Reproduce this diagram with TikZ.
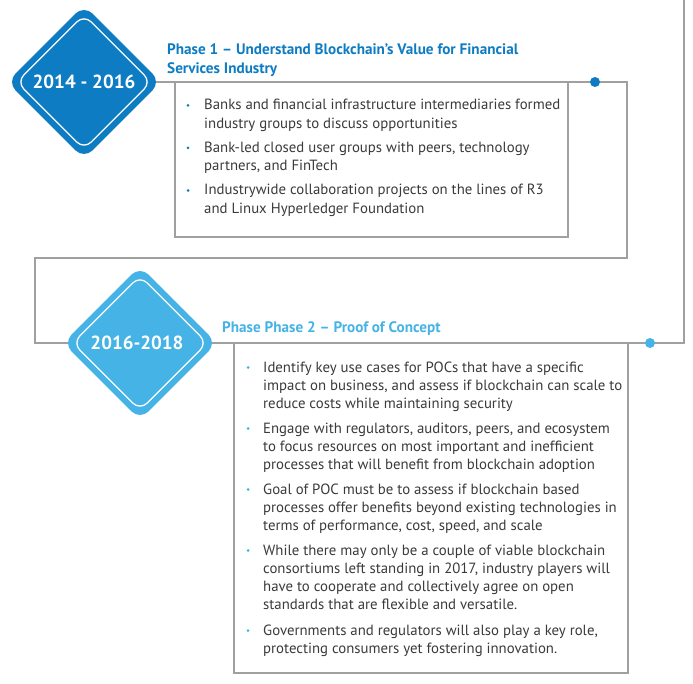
\documentclass[tikz,border=0pt]{standalone}
\usepackage{fontspec}
\setmainfont{PT Sans}
\usetikzlibrary{shapes.geometric,backgrounds}
\definecolor{dblue}{HTML}{0E7CC3}
\definecolor{lblue}{HTML}{45B3E6}
\definecolor{linegray}{HTML}{A0A0A0}
\definecolor{txtgray}{HTML}{3A3A3A}
\tikzset{
  conn/.style={draw=linegray, line width=1.5pt},
  boxframe/.style={draw=linegray, line width=1.5pt, rectangle, inner sep=0pt},
  dia/.style={diamond, aspect=1, inner sep=0pt, minimum size=154pt, rounded corners=12pt},
  diain/.style={diamond, aspect=1, inner sep=0pt, minimum size=135pt, rounded corners=10pt, draw=white, line width=1.3pt},
  yeartext/.style={text=white, font=\fontsize{19}{22}\selectfont\bfseries, inner sep=0pt},
  phasetitle/.style={anchor=base west, inner sep=0pt, align=left, font=\fontsize{15.2}{19}\selectfont\bfseries},
  itemtext/.style={anchor=base west, inner sep=0pt, align=left, text=txtgray, font=\fontsize{14.8}{18.3}\selectfont},
  bul/.style={circle, inner sep=0pt, minimum size=3pt},
  dot/.style={circle, inner sep=0pt, minimum size=10pt},
}
\begin{document}
\begin{tikzpicture}[x=1pt,y=-1pt]
\useasboundingbox (0,0) rectangle (693,684);
% diamonds
\node[dia, fill=dblue] (d1) at (84,82) {};
\node[diain] (d1in) at (84,82) {};
\node[yeartext] (y1) at (84,82) {2014 - 2016};
\node[dia, fill=lblue] (d2) at (140,343) {};
\node[diain] (d2in) at (140,343) {};
\node[yeartext] (y2) at (137,343) {2016-2018};
% boxes
\node[boxframe, minimum width=393pt, minimum height=155pt] (box1) at (371.5,159.5) {};
\node[boxframe, minimum width=394pt, minimum height=330pt] (box2) at (431,508) {};
% corner coordinates
\coordinate (c1) at (627,82);
\coordinate (c2) at (627,258);
\coordinate (c3) at (35,258);
\coordinate (c4) at (35,343);
\coordinate (c5) at (684,343);
\coordinate (c6) at (684,0);
\begin{scope}[on background layer]
\draw[conn] (d1.center) -- (c1) -- (c2) -- (c3) -- (c4) -- (d2.center);
\draw[conn] (d2.center) -- (c5) -- (c6);
\end{scope}
% dots
\node[dot, fill=dblue] (p1) at (595,82) {};
\node[dot, fill=lblue] (p2) at (650,343) {};
% titles (anchor = baseline of last line)
\node[phasetitle, text=dblue] (t1) at (167,74) {Phase 1 – Understand Blockchain's Value for Financial\\Services Industry};
\node[phasetitle, text=lblue] (t2) at (222,332.5) {Phase Phase 2 – Proof of Concept};
% box 1 items
\node[bul, fill=dblue] (b11) at (188,105.5) {};
\node[itemtext] (i11) at (204,128.3) {Banks and financial infrastructure intermediaries formed\\industry groups to discuss opportunities};
\node[bul, fill=dblue] (b12) at (188,148) {};
\node[itemtext] (i12) at (204,170.8) {Bank-led closed user groups with peers, technology\\partners, and FinTech};
\node[bul, fill=dblue] (b13) at (188,190.5) {};
\node[itemtext] (i13) at (204,213.3) {Industrywide collaboration projects on the lines of R3\\and Linux Hyperledger Foundation};
% box 2 items
\node[bul, fill=lblue] (b21) at (248,367.5) {};
\node[itemtext] (i21) at (263,408.6) {Identify key use cases for POCs that have a specific\\impact on business, and assess if blockchain can scale to\\reduce costs while maintaining security};
\node[bul, fill=lblue] (b22) at (248,428.5) {};
\node[itemtext] (i22) at (263,469.6) {Engage with regulators, auditors, peers, and ecosystem\\to focus resources on most important and inefficient\\processes that will benefit from blockchain adoption};
\node[bul, fill=lblue] (b23) at (248,489.5) {};
\node[itemtext] (i23) at (263,530.6) {Goal of POC must be to assess if blockchain based\\processes offer benefits beyond existing technologies in\\terms of performance, cost, speed, and scale};
\node[bul, fill=lblue] (b24) at (248,550.5) {};
\node[itemtext] (i24) at (263,609.9) {While there may only be a couple of viable blockchain\\consortiums left standing in 2017, industry players will\\have to cooperate and collectively agree on open\\standards that are flexible and versatile.};
\node[bul, fill=lblue] (b25) at (248,630.5) {};
\node[itemtext] (i25) at (263,653.3) {Governments and regulators will also play a key role,\\protecting consumers yet fostering innovation.};
\end{tikzpicture}
\end{document}
